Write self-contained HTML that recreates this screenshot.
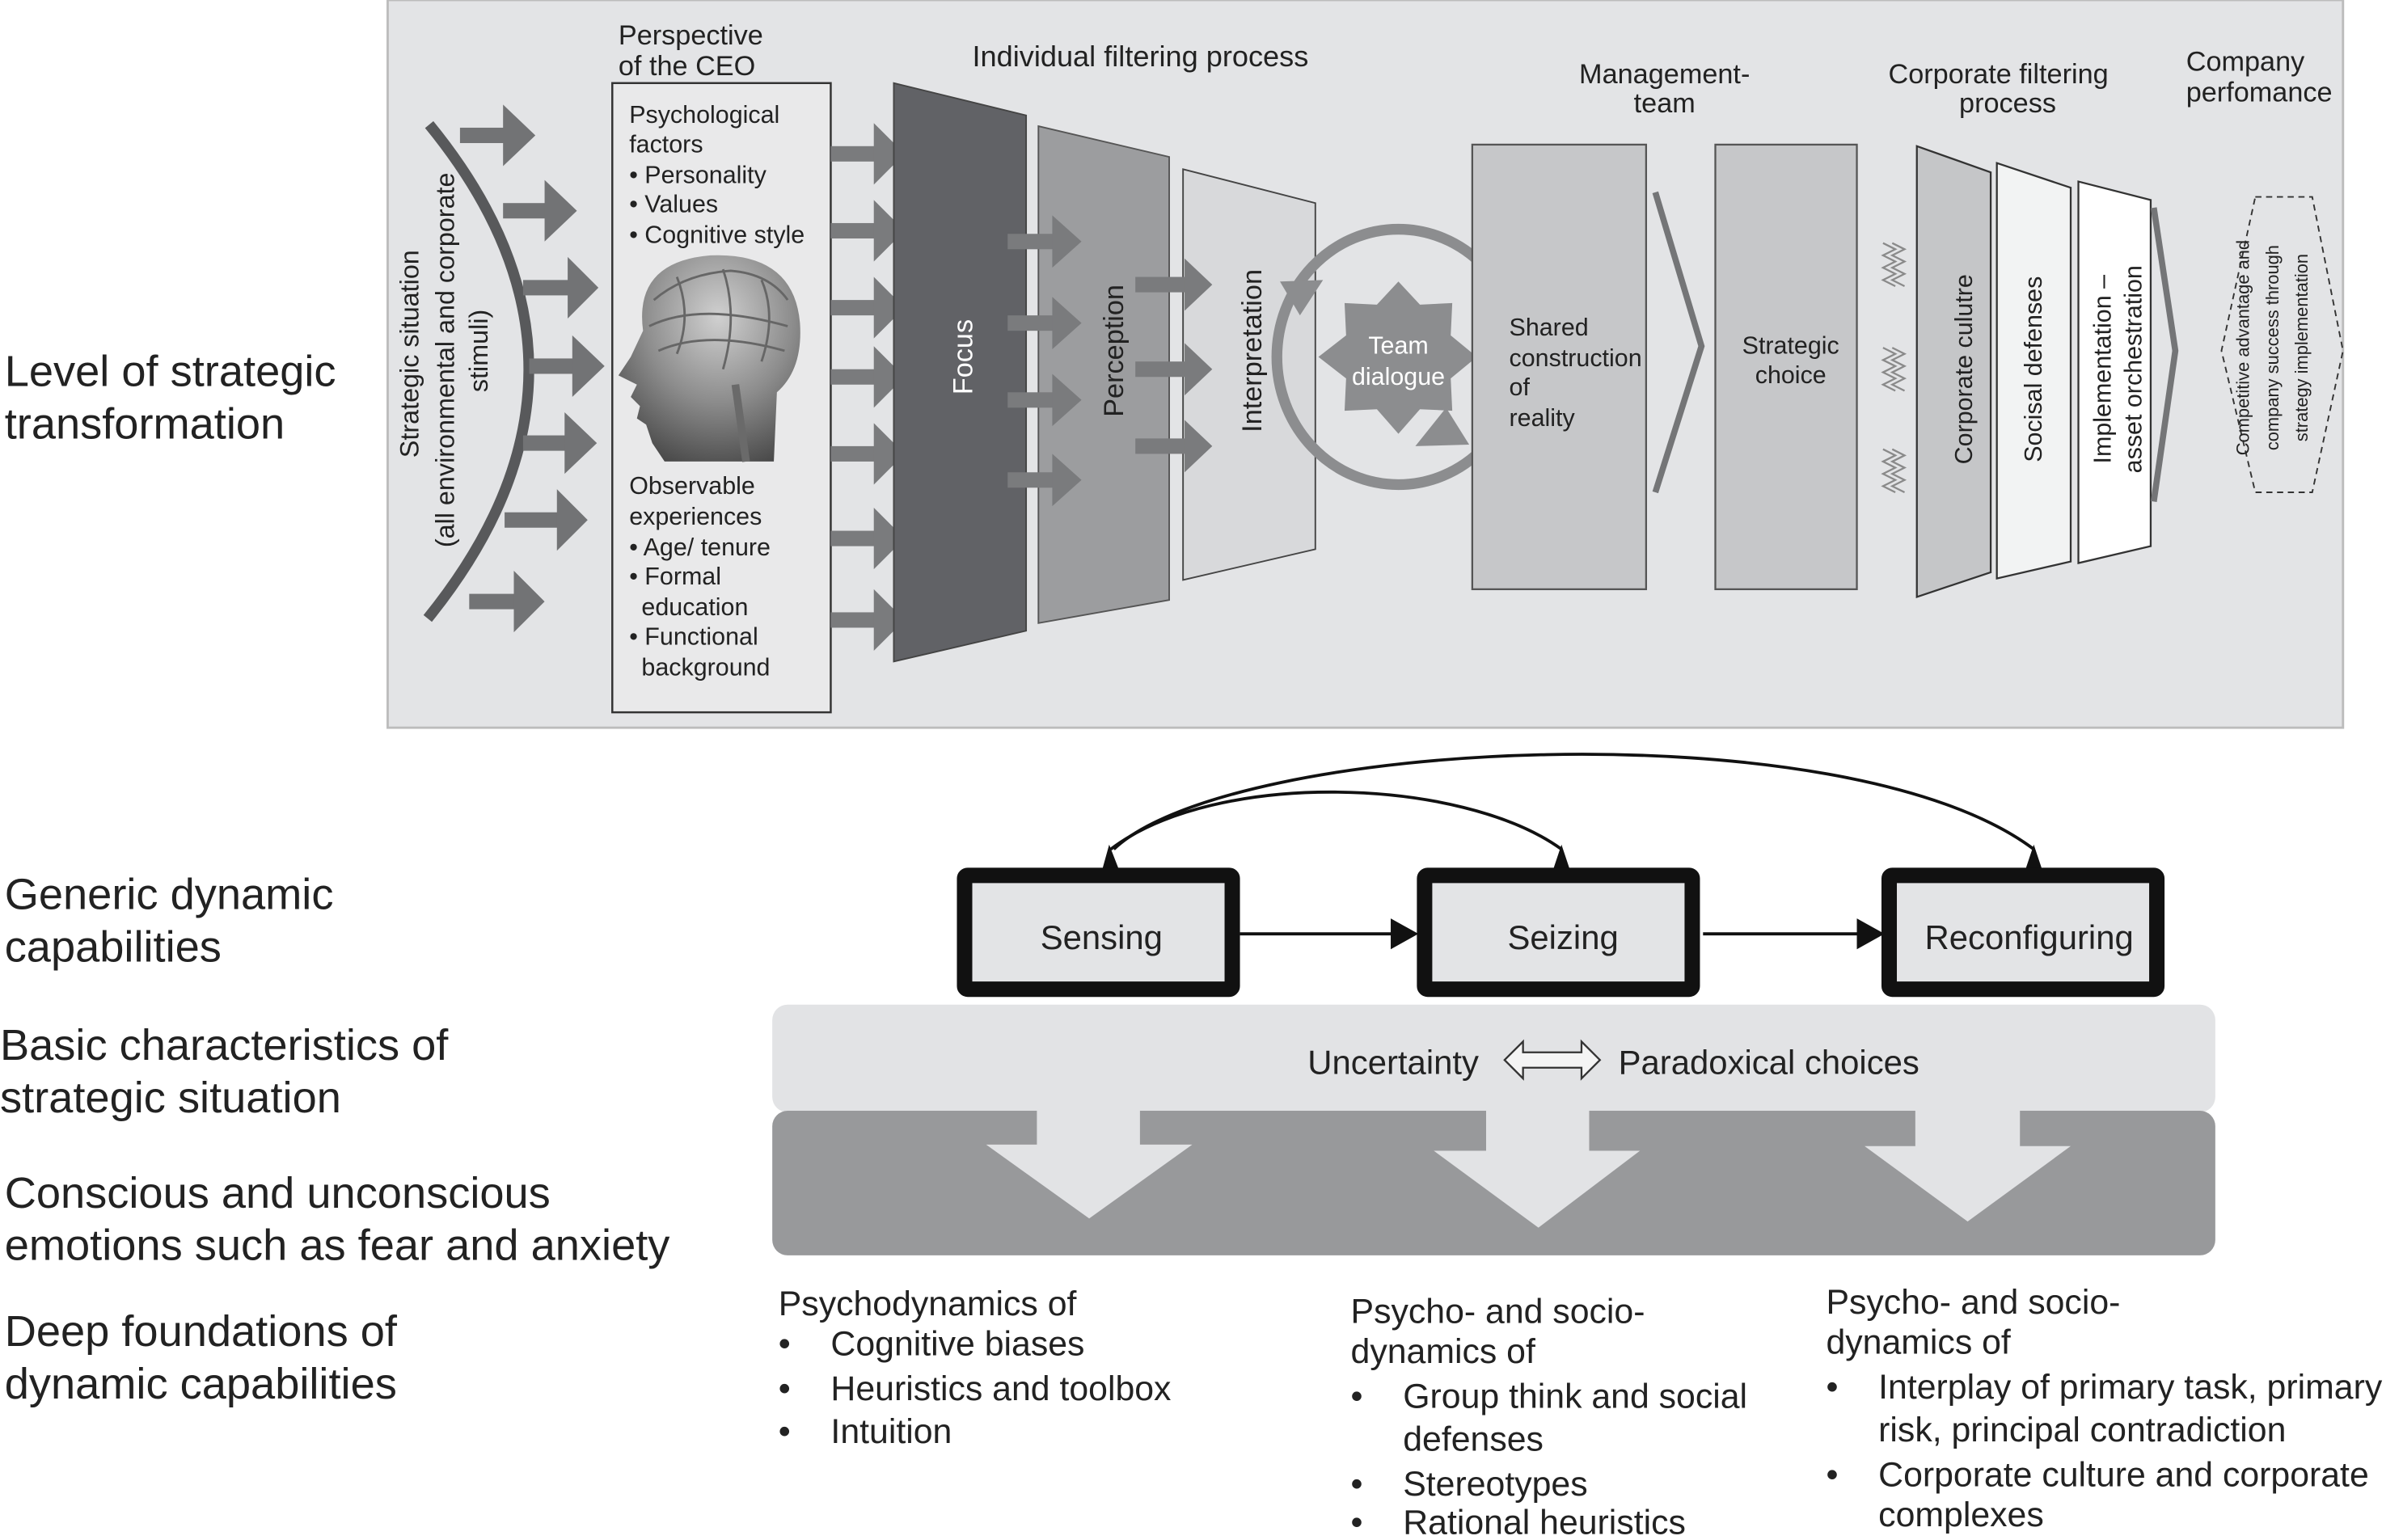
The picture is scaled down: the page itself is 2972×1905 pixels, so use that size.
<!DOCTYPE html>
<html><head><meta charset="utf-8"><style>
html,body{margin:0;padding:0;background:#fff;}
svg{display:block;}
text{font-family:"Liberation Sans Narrow","Liberation Sans",sans-serif;fill:#222;}
.s{font-family:"Liberation Sans",sans-serif;}
</style></head><body>
<svg width="2972" height="1905" viewBox="0 0 1562 1001" preserveAspectRatio="none" xmlns="http://www.w3.org/2000/svg">
<defs>
<radialGradient id="br" cx="0.55" cy="0.3" r="0.75"><stop offset="0" stop-color="#d0d0d0"/><stop offset="0.55" stop-color="#8c8c8c"/><stop offset="1" stop-color="#4a4a4a"/></radialGradient>
</defs>
<rect width="1562" height="1001" fill="#fff"/>
<rect x="252" y="0" width="1271" height="473" fill="#e3e4e6" stroke="#bcbcbc" stroke-width="1.5"/>

<g font-size="28.5">
<text class="s" x="3" y="251">Level of strategic</text>
<text class="s" x="3" y="285">transformation</text>
</g>

<text class="s" font-size="17" transform="translate(272,230) rotate(-90)" text-anchor="middle">Strategic situation</text>
<text class="s" font-size="17" transform="translate(295,234) rotate(-90)" text-anchor="middle">(all environmental and corporate</text>
<text class="s" font-size="17" transform="translate(317,228) rotate(-90)" text-anchor="middle">stimuli)</text>
<path d="M279,81 Q409,240 278,402" fill="none" stroke="#58595b" stroke-width="7"/>
<g fill="#727375">
<rect x="299" y="83" width="31" height="10"/><polygon points="327,68 348,88 327,108"/>
<rect x="327" y="132" width="29" height="10"/><polygon points="354,117 375,137 354,157"/>
<rect x="340" y="182" width="31" height="10"/><polygon points="369,167 389,187 369,207"/>
<rect x="344" y="233" width="30" height="10"/><polygon points="372,218 393,238 372,258"/>
<rect x="340" y="283" width="29" height="10"/><polygon points="367,268 388,288 367,308"/>
<rect x="328" y="333" width="36" height="10"/><polygon points="362,318 382,338 362,358"/>
<rect x="305" y="386" width="31" height="10"/><polygon points="334,371 354,391 334,411"/>
</g>

<text x="402" y="29" font-size="18">Perspective</text>
<text x="402" y="49" font-size="18">of the CEO</text>
<rect x="398" y="54" width="142" height="409" fill="#e9e9ea" stroke="#333" stroke-width="1.3"/>
<g font-size="16">
<text x="409" y="80">Psychological</text>
<text x="409" y="99">factors</text>
<text x="409" y="119">• Personality</text>
<text x="409" y="138">• Values</text>
<text x="409" y="158">• Cognitive style</text>
<text x="409" y="321">Observable</text>
<text x="409" y="341">experiences</text>
<text x="409" y="361">• Age/ tenure</text>
<text x="409" y="380">• Formal</text>
<text x="417" y="400">education</text>
<text x="409" y="419">• Functional</text>
<text x="417" y="439">background</text>
</g>
<path d="M418,215 Q412,170 462,166 Q516,164 520,210 Q522,240 505,255 L503,300 L432,300 L424,288 L420,276 L414,272 L416,264 L410,258 L414,250 L402,244 L410,232 Z" fill="url(#br)"/>
<path d="M425,195 Q445,178 475,176 Q500,178 512,195 M422,212 Q455,196 512,212 M428,228 Q460,214 510,228 M440,180 Q450,205 440,230 M470,175 Q480,205 470,240 M495,182 Q505,205 495,235" stroke="#666" stroke-width="1.5" fill="none"/>
<path d="M478,250 L485,300" stroke="#6a6a6a" stroke-width="5"/>

<g fill="#7a7b7d">
<rect x="540" y="95" width="30" height="10"/><polygon points="568,80 588,100 568,120"/>
<rect x="540" y="145" width="30" height="10"/><polygon points="568,130 588,150 568,170"/>
<rect x="540" y="195" width="30" height="10"/><polygon points="568,180 588,200 568,220"/>
<rect x="540" y="240" width="30" height="10"/><polygon points="568,225 588,245 568,265"/>
<rect x="540" y="290" width="30" height="10"/><polygon points="568,275 588,295 568,315"/>
<rect x="540" y="345" width="30" height="10"/><polygon points="568,330 588,350 568,370"/>
<rect x="540" y="398" width="30" height="10"/><polygon points="568,383 588,403 568,423"/>
</g>

<text x="632" y="43" font-size="19">Individual filtering  process</text>
<polygon points="581,54 667,75 667,410 581,430" fill="#616266" stroke="#444" stroke-width="1"/>
<polygon points="675,82 760,102 760,390 675,405" fill="#9c9d9f" stroke="#555" stroke-width="1"/>
<polygon points="769,110 855,132 855,357 769,377" fill="#d8d9db" stroke="#444" stroke-width="1"/>
<text class="s" font-size="18" style="fill:#fff" transform="translate(632,232) rotate(-90)" text-anchor="middle">Focus</text>
<text class="s" font-size="18" transform="translate(730,228) rotate(-90)" text-anchor="middle">Perception</text>
<text class="s" font-size="18" transform="translate(820,228) rotate(-90)" text-anchor="middle">Interpretation</text>
<g fill="#7a7b7d">
<rect x="655" y="152" width="32" height="10"/><polygon points="684,140 703,157 684,174"/>
<rect x="655" y="205" width="32" height="10"/><polygon points="684,193 703,210 684,227"/>
<rect x="655" y="255" width="32" height="10"/><polygon points="684,243 703,260 684,277"/>
<rect x="655" y="307" width="32" height="10"/><polygon points="684,295 703,312 684,329"/>
<rect x="738" y="180" width="34" height="10"/><polygon points="770,168 788,185 770,202"/>
<rect x="738" y="235" width="34" height="10"/><polygon points="770,223 788,240 770,257"/>
<rect x="738" y="285" width="34" height="10"/><polygon points="770,273 788,290 770,307"/>
</g>
<ellipse cx="909" cy="232" rx="79" ry="83" fill="none" stroke="#8c8d8f" stroke-width="7"/>
<polygon points="832,183 860,182 845,205" fill="#8c8d8f"/>
<polygon points="920,290 955,289 940,265" fill="#8c8d8f"/>
<polygon points="909,183 923,198 944,197 943,218 960,232 943,246 944,267 923,266 909,282 895,266 874,267 875,246 857,232 875,218 874,197 895,198" fill="#8c8d8f"/>
<text font-size="16" style="fill:#fff" x="909" y="230" text-anchor="middle">Team</text>
<text font-size="16" style="fill:#fff" x="909" y="250" text-anchor="middle">dialogue</text>

<text x="1082" y="54" font-size="18" text-anchor="middle">Management-</text>
<text x="1082" y="73" font-size="18" text-anchor="middle">team</text>
<rect x="957" y="94" width="113" height="289" fill="#c6c7c9" stroke="#555" stroke-width="1.2"/>
<g font-size="16"><text x="981" y="218">Shared</text><text x="981" y="238">construction</text><text x="981" y="257">of</text><text x="981" y="277">reality</text></g>
<polyline points="1076,125 1106,225 1076,320" fill="none" stroke="#747577" stroke-width="4"/>
<rect x="1115" y="94" width="92" height="289" fill="#c6c7c9" stroke="#555" stroke-width="1.2"/>
<text x="1164" y="230" font-size="16" text-anchor="middle">Strategic</text>
<text x="1164" y="249" font-size="16" text-anchor="middle">choice</text>

<text x="1299" y="54" font-size="18" text-anchor="middle">Corporate filtering</text>
<text x="1305" y="73" font-size="18" text-anchor="middle">process</text>
<text x="1421" y="46" font-size="18">Company</text>
<text x="1421" y="66" font-size="18">perfomance</text>
<g fill="none" stroke="#8a8a8a" stroke-width="1.2">
<path d="M1224,158 l8,4 l-8,4 l8,4 l-8,4 l8,4 l-8,4 l8,4 M1230,158 l8,4 l-8,4 l8,4 l-8,4 l8,4 l-8,4 l8,4"/>
<path d="M1224,226 l8,4 l-8,4 l8,4 l-8,4 l8,4 l-8,4 l8,4 M1230,226 l8,4 l-8,4 l8,4 l-8,4 l8,4 l-8,4 l8,4"/>
<path d="M1224,292 l8,4 l-8,4 l8,4 l-8,4 l8,4 l-8,4 l8,4 M1230,292 l8,4 l-8,4 l8,4 l-8,4 l8,4 l-8,4 l8,4"/>
</g>
<polygon points="1246,95 1294,112 1294,372 1246,388" fill="#c5c6c8" stroke="#333" stroke-width="1.2"/>
<polygon points="1298,106 1346,122 1346,365 1298,376" fill="#f2f3f3" stroke="#333" stroke-width="1.2"/>
<polygon points="1351,118 1398,130 1398,355 1351,366" fill="#fff" stroke="#333" stroke-width="1.2"/>
<text class="s" font-size="16" transform="translate(1282,240) rotate(-90)" text-anchor="middle">Corporate culutre</text>
<text class="s" font-size="16" transform="translate(1327,240) rotate(-90)" text-anchor="middle">Socisal defenses</text>
<text class="s" font-size="16" transform="translate(1372,240) rotate(-90)" text-anchor="middle">Implementation –</text>
<text class="s" font-size="16" transform="translate(1392,240) rotate(-90)" text-anchor="middle">asset orchestration</text>
<polyline points="1400,135 1414,228 1400,326" fill="none" stroke="#747577" stroke-width="4"/>
<polygon points="1466,128 1503,128 1523,228 1503,320 1466,320 1444,228" fill="none" stroke="#333" stroke-width="1" stroke-dasharray="4,3"/>
<text class="s" font-size="11.5" transform="translate(1462,226) rotate(-90)" text-anchor="middle">Competitive advantage and</text>
<text class="s" font-size="11.5" transform="translate(1481,226) rotate(-90)" text-anchor="middle">company success through</text>
<text class="s" font-size="11.5" transform="translate(1500,226) rotate(-90)" text-anchor="middle">strategy implementation</text>

<g font-size="28.5">
<text class="s" x="3" y="591">Generic dynamic</text>
<text class="s" x="3" y="625">capabilities</text>
<text class="s" x="0" y="689">Basic characteristics of</text>
<text class="s" x="0" y="723">strategic situation</text>
<text class="s" x="3" y="785">Conscious and unconscious</text>
<text class="s" x="3" y="819">emotions such as fear and anxiety</text>
<text class="s" x="3" y="875">Deep foundations of</text>
<text class="s" x="3" y="909">dynamic capabilities</text>
</g>

<path d="M722,552 C790,500 950,505 1015,552" fill="none" stroke="#111" stroke-width="2"/>
<path d="M724,552 C800,480 1200,460 1322,552" fill="none" stroke="#111" stroke-width="2"/>
<polygon points="716,567 728,567 721,549" fill="#111"/>
<polygon points="1009,567 1021,567 1015,549" fill="#111"/>
<polygon points="1316,567 1328,567 1322,549" fill="#111"/>

<rect x="627" y="569" width="174" height="74" fill="#e3e4e6" stroke="#111" stroke-width="10" rx="2"/>
<rect x="926" y="569" width="174" height="74" fill="#e3e4e6" stroke="#111" stroke-width="10" rx="2"/>
<rect x="1228" y="569" width="174" height="74" fill="#e3e4e6" stroke="#111" stroke-width="10" rx="2"/>
<text x="716" y="617" font-size="22" text-anchor="middle">Sensing</text>
<text x="1016" y="617" font-size="22" text-anchor="middle">Seizing</text>
<text x="1319" y="617" font-size="22" text-anchor="middle">Reconfiguring</text>
<line x1="806" y1="607" x2="906" y2="607" stroke="#111" stroke-width="2"/>
<polygon points="904,597 922,607 904,617" fill="#111"/>
<line x1="1107" y1="607" x2="1209" y2="607" stroke="#111" stroke-width="2"/>
<polygon points="1207,597 1225,607 1207,617" fill="#111"/>

<rect x="502" y="653" width="938" height="70" rx="10" fill="#e2e3e5"/>
<text x="850" y="698" font-size="22">Uncertainty</text>
<polygon points="978,689 990,677 990,684 1028,684 1028,677 1040,689 1028,701 1028,694 990,694 990,701" fill="#f4f4f4" stroke="#333" stroke-width="1.2"/>
<text x="1052" y="698" font-size="22">Paradoxical choices</text>

<rect x="502" y="722" width="938" height="94" rx="10" fill="#98999b"/>
<g fill="#e2e3e5">
<rect x="674" y="720" width="67" height="26"/><polygon points="641,744 775,744 708,792"/>
<rect x="966" y="720" width="67" height="30"/><polygon points="932,748 1066,748 1000,798"/>
<rect x="1245" y="720" width="68" height="27"/><polygon points="1212,745 1346,745 1279,794"/>
</g>

<g font-size="22.5">
<text x="506" y="855">Psychodynamics of</text>
<text x="506" y="881">•</text><text x="540" y="881">Cognitive biases</text>
<text x="506" y="910">•</text><text x="540" y="910">Heuristics and toolbox</text>
<text x="506" y="938">•</text><text x="540" y="938">Intuition</text>
<text x="878" y="860">Psycho- and socio-</text>
<text x="878" y="886">dynamics of</text>
<text x="878" y="915">•</text><text x="912" y="915">Group think and social</text>
<text x="912" y="943">defenses</text>
<text x="878" y="972">•</text><text x="912" y="972">Stereotypes</text>
<text x="878" y="997">•</text><text x="912" y="997">Rational heuristics</text>
<text x="1187" y="854">Psycho- and socio-</text>
<text x="1187" y="880">dynamics of</text>
<text x="1187" y="909">•</text><text x="1221" y="909">Interplay of primary task, primary</text>
<text x="1221" y="937">risk, principal contradiction</text>
<text x="1187" y="966">•</text><text x="1221" y="966">Corporate culture and corporate</text>
<text x="1221" y="992">complexes</text>
</g>
</svg>
</body></html>
